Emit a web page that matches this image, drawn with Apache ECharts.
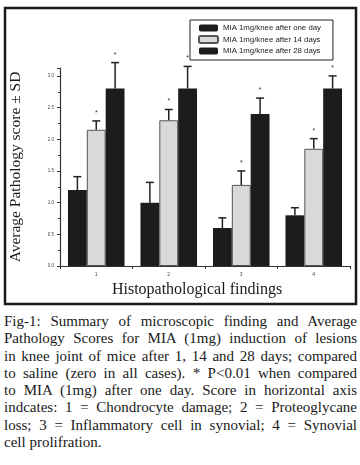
<!DOCTYPE html>
<html>
<head>
<meta charset="utf-8">
<script src="https://cdn.jsdelivr.net/npm/echarts@6/dist/echarts.min.js"></script>
<style>
html,body{margin:0;padding:0;background:#fff;}
#wrap{position:relative;width:360px;height:465px;overflow:hidden;}
#chart{position:absolute;left:0;top:0;width:360px;height:310px;}
#caption{position:absolute;left:4px;top:313px;width:353px;font-family:"Liberation Serif",serif;font-size:15px;line-height:17.3px;color:#1a1a1a;}
#caption div{white-space:nowrap;text-align:justify;text-align-last:justify;}
#caption div.last{text-align-last:left;}
</style>
</head>
<body>
<div id="wrap">
<div id="chart"></div>
<div id="caption"></div>
</div>
<script>
// ---- data ----
var categories = ['1', '2', '3', '4'];
var seriesNames = ['MIA 1mg/knee after one day', 'MIA 1mg/knee after 14 days', 'MIA 1mg/knee after 28 days'];
var day1Mean = [1.2, 1.0, 0.6, 0.8];
var day1Sd = [0.21, 0.32, 0.16, 0.12];
var day14Mean = [2.15, 2.3, 1.28, 1.85];
var day14Sd = [0.14, 0.17, 0.22, 0.16];
var day28Mean = [2.8, 2.8, 2.4, 2.8];
var day28Sd = [0.41, 0.35, 0.25, 0.2];
var day1Sig = [false, false, false, false];
var day14Sig = [true, true, true, true];
var day28Sig = [true, true, true, true];
var yTickLabels = ['0.0', '0.5', '1.0', '1.5', '2.0', '2.5', '3.0'];
var yAxisName = 'Average Pathology score \u00b1 SD';
var xAxisName = 'Histopathological findings';
var captionLines = [
  'Fig-1: Summary of microscopic finding and Average',
  'Pathology Scores for MIA (1mg) induction of lesions',
  'in knee joint of mice after 1, 14 and 28 days; compared',
  'to saline (zero in all cases). * P<0.01 when compared',
  'to MIA (1mg) after one day. Score in horizontal axis',
  'indcates: 1 = Chondrocyte damage; 2 = Proteoglycane',
  'loss; 3 = Inflammatory cell in synovial; 4 = Synovial',
  'cell prolifration.'
];

// ---- caption ----
var cap = document.getElementById('caption');
captionLines.forEach(function (t, i) {
  var d = document.createElement('div');
  d.textContent = t;
  if (i === captionLines.length - 1) d.className = 'last';
  cap.appendChild(d);
});

// ---- chart ----
var GAP = 0.22;
var colors = ['#1c1c1c', '#d9d9d9', '#1c1c1c'];
var means = [day1Mean, day14Mean, day28Mean];
var sds = [day1Sd, day14Sd, day28Sd];
var sigs = [day1Sig, day14Sig, day28Sig];

function errRender(si) {
  return function (params, api) {
    var idx = api.value(0);
    var m = api.value(1), sd = api.value(2), sig = api.value(3);
    var band = api.size([1, 0])[0];
    var bw = band * (1 - GAP) / 3;
    var c = api.coord([idx, m]);
    var top = api.coord([idx, m + sd]);
    var x = c[0] + (si - 1) * bw;
    var children = [
      {type: 'line', shape: {x1: x, y1: c[1], x2: x, y2: top[1]}, style: {stroke: '#222', lineWidth: 1.5}},
      {type: 'line', shape: {x1: x - 4, y1: top[1], x2: x + 4, y2: top[1]}, style: {stroke: '#222', lineWidth: 1.5}}
    ];
    if (sig) {
      children.push({type: 'text', x: x, y: top[1] - 8, style: {text: '*', fontSize: 7, fill: '#333', align: 'center', verticalAlign: 'middle', fontFamily: 'Liberation Sans'}});
    }
    return {type: 'group', children: children};
  };
}

var series = [];
for (var s = 0; s < 3; s++) {
  series.push({
    name: seriesNames[s],
    type: 'bar',
    data: means[s],
    barGap: '0%',
    barCategoryGap: (GAP * 100) + '%',
    itemStyle: s === 1 ? {color: colors[s], borderColor: '#555', borderWidth: 1} : {color: colors[s]},
    emphasis: {disabled: true},
    z: 2
  });
}
for (var s2 = 0; s2 < 3; s2++) {
  var d = categories.map(function (c, i) { return [i, means[s2][i], sds[s2][i], sigs[s2][i] ? 1 : 0]; });
  series.push({
    type: 'custom',
    renderItem: errRender(s2),
    data: d,
    z: 5,
    silent: true
  });
}

var chart = echarts.init(document.getElementById('chart'), null, {renderer: 'canvas'});
chart.setOption({
  animation: false,
  backgroundColor: '#fff',
  grid: {left: 50, right: 10, top: 68, bottom: 44},
  legend: {
    left: 190, top: 20, orient: 'vertical',
    data: seriesNames,
    borderColor: '#222', borderWidth: 1,
    padding: [4, 12, 5, 8],
    itemGap: 3, itemWidth: 19, itemHeight: 7,
    textStyle: {fontSize: 7.8, color: '#222', fontFamily: 'Liberation Sans'},
    selectedMode: false
  },
  xAxis: {
    type: 'category', data: categories,
    name: xAxisName, nameLocation: 'middle', nameGap: 12,
    nameTextStyle: {fontFamily: 'Liberation Serif', fontSize: 16, color: '#1a1a1a', padding: [0, 16, 0, 0]},
    axisLine: {lineStyle: {color: '#333', width: 1.2}},
    axisTick: {show: true, length: 3, lineStyle: {color: '#333'}},
    axisLabel: {fontSize: 5, color: '#444', margin: 6}
  },
  yAxis: {
    type: 'value', min: 0, max: 3.125, interval: 0.5,
    name: yAxisName, nameLocation: 'middle', nameGap: 36,
    nameTextStyle: {fontFamily: 'Liberation Serif', fontSize: 15.5, color: '#1a1a1a'},
    axisLine: {show: true, lineStyle: {color: '#333', width: 1.2}},
    axisTick: {show: true, length: 3, lineStyle: {color: '#333'}},
    minorTick: {show: true, splitNumber: 2, length: 2, lineStyle: {color: '#333'}},
    splitLine: {show: false},
    axisLabel: {fontSize: 4.5, color: '#444', margin: 6, showMaxLabel: false,
      formatter: function (v) { var i = Math.round(v / 0.5); return yTickLabels[i] !== undefined && Math.abs(v - i * 0.5) < 1e-6 ? yTickLabels[i] : ''; }}
  },
  graphic: [{
    type: 'rect', shape: {x: 5, y: 8, width: 351, height: 296},
    style: {fill: 'none', stroke: '#1a1a1a', lineWidth: 2.5}, z: 100, silent: true
  }],
  series: series
});
</script>
</body>
</html>
